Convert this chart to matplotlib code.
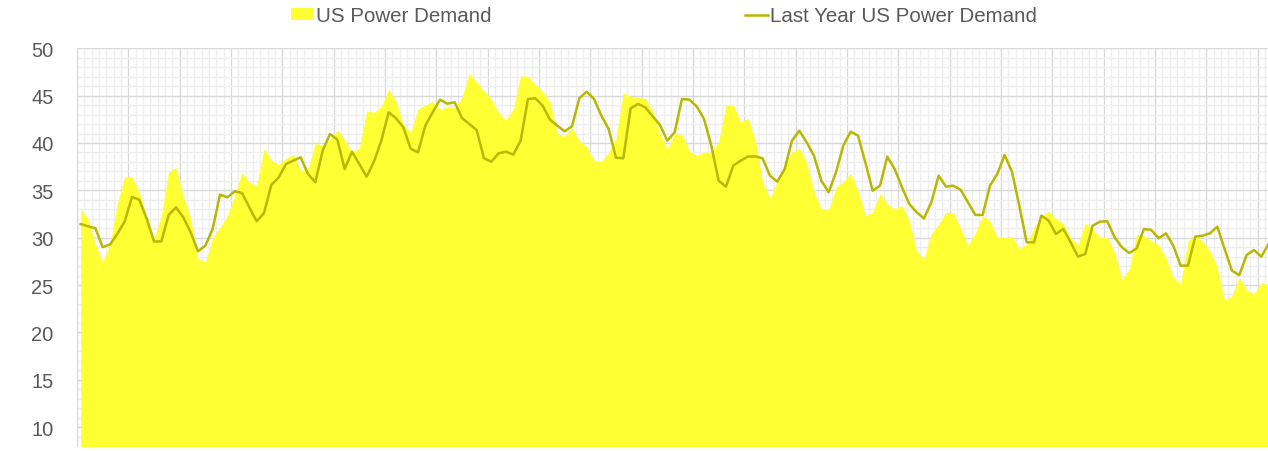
import numpy as np
import matplotlib.pyplot as plt
from matplotlib.ticker import MultipleLocator

# daily demand values (163 points)
demand = [
    33.1, 32.0, 29.3, 27.4, 29.3, 33.6, 36.4, 36.4, 34.8, 32.3,
    29.9, 32.3, 37.0, 37.4, 34.4, 32.0, 27.8, 27.4, 30.0, 31.1,
    32.3, 34.4, 36.9, 35.85, 35.5, 39.4, 38.2, 37.7, 38.4, 38.8,
    37.1, 37.25, 40.0, 39.7, 40.4, 41.35, 40.4, 39.0, 39.5, 43.4,
    43.24, 43.85, 45.7, 44.4, 41.9, 41.13, 43.59, 44.0, 44.4, 43.5,
    43.85, 43.7, 44.8, 47.4, 46.45, 45.5, 44.65, 43.2, 42.45, 43.59,
    47.1, 47.04, 46.2, 45.42, 44.4, 41.0, 40.7, 41.6, 40.25, 39.65,
    38.17, 38.06, 39.0, 40.5, 45.3, 44.93, 44.8, 44.7, 43.4, 41.0,
    39.35, 41.0, 40.9, 39.2, 38.66, 39.05, 39.01, 40.15, 44.0, 44.0,
    42.18, 42.61, 40.25, 35.9, 34.15, 36.0, 37.6, 39.05, 39.44, 38.0,
    34.9, 33.0, 32.93, 35.32, 35.9, 36.8, 35.0, 32.32, 32.68, 34.68,
    33.56, 33.03, 33.4, 31.8, 28.6, 27.8, 30.39, 31.44, 32.68, 32.65,
    31.0, 29.2, 30.5, 32.32, 31.75, 30.04, 30.0, 30.14, 28.85, 29.33,
    31.0, 32.25, 32.8, 32.0, 31.5, 30.0, 29.25, 31.6, 30.92, 30.0,
    30.04, 28.45, 25.63, 26.69, 30.39, 30.21, 29.7, 29.25, 27.9, 25.8,
    25.1, 29.7, 30.2, 29.68, 28.6, 26.9, 23.35, 23.87, 25.81, 24.5,
    24.05, 25.28, 25.0,
]

last_year = [
    31.44, 31.2, 31.0, 29.0, 29.28, 30.4, 31.7, 34.3, 34.0, 32.0,
    29.6, 29.6, 32.4, 33.2, 32.15, 30.56, 28.56, 29.16, 30.92, 34.55,
    34.26, 34.89, 34.72, 33.21, 31.73, 32.61, 35.56, 36.37, 37.78, 38.13,
    38.49, 36.73, 35.85, 39.19, 40.95, 40.35, 37.25, 39.08, 37.78, 36.44,
    38.03, 40.25, 43.24, 42.61, 41.66, 39.4, 39.01, 41.83, 43.24, 44.58,
    44.15, 44.3, 42.64, 42.01, 41.37, 38.38, 38.03, 38.91, 39.08, 38.77,
    40.25, 44.65, 44.72, 43.94, 42.46, 41.83, 41.23, 41.76, 44.72, 45.42,
    44.65, 42.89, 41.48, 38.45, 38.38, 43.66, 44.12, 43.77, 42.82, 41.9,
    40.25, 41.13, 44.65, 44.58, 43.87, 42.54, 39.72, 36.02, 35.39, 37.61,
    38.13, 38.56, 38.59, 38.38, 36.55, 35.92, 37.25, 40.25, 41.3, 40.07,
    38.66, 36.02, 34.79, 36.9, 39.72, 41.2, 40.78, 37.96, 34.96, 35.49,
    38.56, 37.25, 35.32, 33.56, 32.68, 32.04, 33.73, 36.55, 35.39, 35.49,
    35.07, 33.73, 32.4, 32.4, 35.49, 36.73, 38.73, 36.97, 33.38, 29.51,
    29.51, 32.33, 31.8, 30.39, 30.92, 29.51, 28.0, 28.28, 31.27, 31.69,
    31.73, 30.04, 28.98, 28.38, 28.87, 30.92, 30.81, 29.93, 30.46, 29.16,
    27.05, 27.05, 30.11, 30.21, 30.46, 31.16, 28.8, 26.51, 26.05, 28.17,
    28.7, 28.0, 29.33,
]

y_ticks = [10, 15, 20, 25, 30, 35, 40, 45, 50]

area_color = "#ffff33"
line_color = "#b8b800"
text_color = "#595959"

plt.rcParams['font.family'] = ['Liberation Sans', 'DejaVu Sans']

x = np.arange(len(demand))

fig = plt.figure(figsize=(12.68, 4.52), dpi=100)
ax = fig.add_axes([77 / 1268, 5 / 452, (1272.3 - 77) / 1268, (447 - 49.3) / 452])

ax.fill_between(x, 0, demand, color=area_color, linewidth=0, zorder=2,
                label="US Power Demand")
ax.plot(x, last_year, color=line_color, linewidth=1.8, zorder=3,
        label="Last Year US Power Demand")

ax.set_xlim(-0.5, len(demand) - 0.5)
ax.set_ylim(8, 50)

ax.xaxis.set_major_locator(MultipleLocator(7, offset=-0.5))
ax.xaxis.set_minor_locator(MultipleLocator(1, offset=-0.5))
ax.set_yticks(y_ticks)
ax.yaxis.set_minor_locator(MultipleLocator(1))

ax.grid(True, which="major", color="#d9d9d9", linewidth=1.0, zorder=0)
ax.grid(True, which="minor", color="#eeeeee", linewidth=1.0, zorder=0)
ax.set_axisbelow(True)

ax.tick_params(axis="both", which="both", length=0)
ax.tick_params(axis="x", labelbottom=False)
ax.tick_params(axis="y", labelsize=14.5, labelcolor=text_color, pad=17)

for side in ["top", "right", "bottom"]:
    ax.spines[side].set_visible(False)
ax.spines["left"].set_color("#d9d9d9")

fig.legend(loc="center", bbox_to_anchor=(664 / 1268, 1 - 17 / 452), ncol=2,
           frameon=False, fontsize=14.8, labelcolor=text_color,
           handlelength=1.12, handleheight=0.5, handletextpad=0.1,
           columnspacing=12.3)

fig.savefig("out.png", dpi=100)
